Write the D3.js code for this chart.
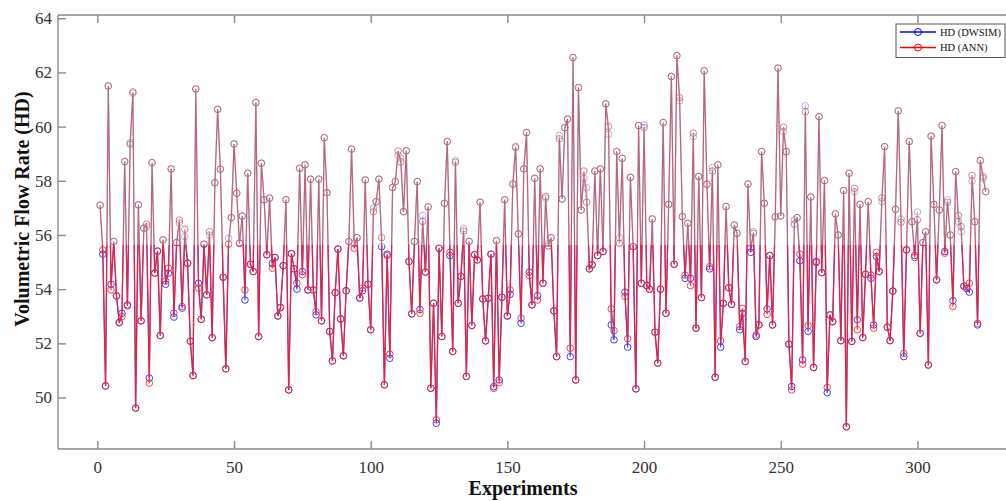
<!DOCTYPE html>
<html><head><meta charset="utf-8">
<script src="https://cdn.jsdelivr.net/npm/d3@7"></script>
<style>body{margin:0;background:#fff;}svg{display:block;}</style>
</head><body>
<svg id="chart" width="1006" height="501"></svg>
<script>
const dwsim = [57.1,55.29,50.43,61.5,54.18,55.76,53.75,52.76,53.11,58.71,53.42,59.41,61.23,49.61,57.11,52.83,56.25,56.3,50.72,58.67,
54.59,55.4,52.29,55.82,54.18,54.59,58.44,52.97,55.72,56.45,53.3,55.94,54.96,52.08,50.81,61.39,54.22,52.89,55.66,53.79,
56.0,52.21,57.93,60.64,58.43,54.44,51.06,55.88,56.64,59.36,57.54,55.7,56.7,53.6,58.28,54.92,54.65,60.89,52.25,58.65,
57.3,55.27,57.36,54.95,55.17,53.01,53.32,54.87,57.3,50.28,55.31,54.75,54.0,58.46,54.65,58.59,53.97,58.06,53.97,53.05,
58.06,52.83,59.59,57.56,52.44,51.35,53.87,55.48,52.9,51.54,53.94,55.76,59.17,55.7,55.9,53.67,53.94,58.03,54.18,52.5,
56.99,57.23,58.06,55.57,50.47,55.29,51.45,57.75,57.97,58.95,58.83,56.86,59.11,55.02,53.09,55.76,57.97,53.25,56.72,54.63,
57.04,50.34,53.48,49.05,55.51,52.25,57.17,59.45,55.24,51.7,58.75,53.48,54.47,56.24,50.78,55.76,52.66,55.27,55.08,57.21,
53.64,52.09,53.67,55.29,50.4,55.79,50.65,53.7,57.3,53.01,53.81,57.88,59.22,56.04,52.74,58.44,59.78,54.63,53.42,58.09,
53.76,58.44,54.22,57.36,55.7,55.9,53.2,51.51,59.67,57.33,59.96,60.28,51.51,62.55,50.65,61.44,56.92,58.09,57.75,54.75,
54.9,58.36,55.24,58.44,55.39,60.84,59.72,52.68,52.13,59.08,55.9,58.83,53.89,51.86,58.13,55.57,50.32,60.04,54.22,60.06,
54.13,54.0,56.59,52.41,51.27,54.0,60.15,53.11,57.13,61.85,54.92,62.62,60.95,56.68,54.4,56.43,54.4,59.63,52.56,58.16,
53.69,62.06,57.87,54.75,58.49,50.75,58.59,51.86,53.48,57.05,54.05,53.44,56.37,56.06,52.5,53.11,51.33,57.88,55.36,56.12,
52.25,52.68,59.08,57.17,53.27,55.24,52.68,56.67,62.16,56.7,59.82,59.08,51.97,50.41,56.56,56.64,55.05,51.39,60.77,52.44,
57.4,51.11,55.02,60.37,54.61,58.01,50.18,53.05,52.8,56.78,56.0,52.1,57.64,48.92,58.28,52.07,57.6,52.87,57.13,52.21,
54.55,57.23,54.4,52.68,55.2,54.65,57.23,59.26,52.6,52.1,53.93,56.95,60.58,56.59,51.51,55.45,59.45,56.49,55.24,56.85,
52.37,55.72,56.12,51.2,59.65,57.13,54.34,56.92,60.04,55.39,57.3,56.0,53.58,58.34,56.5,56.12,54.11,54.03,53.89,57.99,
56.49,52.68,58.75,58.09,57.6];
const ann = [57.1,55.45,50.43,61.5,53.97,55.76,53.75,52.78,52.99,58.71,53.38,59.35,61.28,49.61,57.11,52.83,56.25,56.4,50.53,58.67,
54.6,55.41,52.29,55.82,54.3,54.77,58.44,53.11,55.72,56.55,53.36,56.21,54.96,52.08,50.81,61.39,54.04,52.89,55.66,53.79,
56.12,52.21,57.93,60.64,58.43,54.44,51.06,55.66,56.64,59.36,57.54,55.7,56.7,53.97,58.28,54.92,54.65,60.89,52.25,58.65,
57.3,55.27,57.36,54.77,55.17,53.01,53.32,54.87,57.3,50.28,55.31,54.75,54.22,58.46,54.53,58.59,53.97,58.06,53.97,53.17,
58.06,52.83,59.59,57.56,52.44,51.35,53.87,55.48,52.9,51.54,53.94,55.76,59.17,55.51,55.9,53.67,54.04,58.03,54.18,52.5,
56.86,57.23,58.06,55.9,50.47,55.24,51.6,57.75,57.97,59.1,58.7,56.86,59.11,55.02,53.09,55.76,57.97,53.11,56.5,54.63,
57.04,50.34,53.48,49.18,55.51,52.25,57.17,59.45,55.36,51.7,58.68,53.48,54.47,56.15,50.78,55.76,52.66,55.27,55.08,57.21,
53.64,52.09,53.67,55.29,50.34,55.79,50.55,53.7,57.3,53.01,53.97,57.88,59.26,56.04,52.93,58.44,59.78,54.5,53.42,58.09,
53.6,58.44,54.22,57.42,55.6,55.9,53.2,51.51,59.55,57.33,59.96,60.28,51.82,62.55,50.65,61.44,56.92,58.36,57.21,54.75,
54.9,58.36,55.24,58.44,55.39,60.84,60.0,53.27,52.47,59.08,55.7,58.83,53.73,52.17,58.13,55.57,50.32,60.04,54.22,59.97,
54.13,54.0,56.59,52.41,51.27,54.0,60.15,53.11,57.13,61.85,54.92,62.62,61.07,56.68,54.52,56.43,54.13,59.76,52.56,58.16,
53.69,62.06,57.87,54.83,58.36,50.75,58.59,52.09,53.48,57.05,54.05,53.44,56.37,56.06,52.62,53.29,51.33,57.88,55.51,56.06,
52.31,52.68,59.08,57.17,53.07,55.24,52.68,56.67,62.16,56.7,59.98,59.08,51.97,50.28,56.4,56.64,55.29,51.23,60.55,52.66,
57.4,51.11,54.98,60.37,54.61,58.01,50.37,53.05,52.8,56.78,56.0,52.1,57.64,48.92,58.28,52.07,57.72,52.5,57.13,52.21,
54.55,57.23,54.52,52.56,55.36,54.65,57.37,59.26,52.6,52.1,53.93,56.95,60.58,56.47,51.63,55.45,59.45,56.49,55.17,56.56,
52.37,55.72,56.12,51.2,59.65,57.13,54.34,56.92,60.04,55.33,57.21,56.0,53.36,58.34,56.72,56.31,54.11,54.03,54.22,58.2,
56.49,52.74,58.75,58.16,57.6];
const xTicks = [0,50,100,150,200,250,300];
const yTicks = [50,52,54,56,58,60,62,64];
const seriesNames = ["HD (DWSIM)","HD (ANN)"];
const seriesColors = ["#0000ff","#ff0000"];

const svg = d3.select("#chart");
const L = 58, T = 15, R = 1012, B = 449;
const x = d3.scaleLinear().domain([-14.4, 334.6]).range([L, R]);
const y = d3.scaleLinear().domain([48.1, 64.12]).range([B, T]);
const serif = "'Liberation Serif','Times New Roman',serif";
const axisColor = "#8a8a8a";

svg.append("rect").attr("x",0).attr("y",0).attr("width",1006).attr("height",501).attr("fill","#fff");

const defs = svg.append("defs");
const splitY = y(55.63);
defs.append("clipPath").attr("id","clipLow").append("rect").attr("x",L).attr("y",splitY).attr("width",R-L).attr("height",B-splitY);
defs.append("clipPath").attr("id","clipHigh").append("rect").attr("x",L).attr("y",T).attr("width",R-L).attr("height",splitY-T);

const data = [dwsim, ann].map((arr,k)=>arr.map((v,i)=>({x:i+1,y:v})));
const line = d3.line().x(d=>x(d.x)).y(d=>y(d.y));

function drawSeries(g, styles){
  data.forEach((pts,k)=>{
    const st = styles[k];
    const sg = g.append("g").attr("opacity", st.opacity);
    sg.append("path").datum(pts).attr("d", line).attr("fill","none")
      .attr("stroke", st.color).attr("stroke-width", st.lw);
    sg.selectAll("circle").data(pts).join("circle")
      .attr("cx", d=>x(d.x)).attr("cy", d=>y(d.y)).attr("r", 3.3)
      .attr("fill","none").attr("stroke", st.color).attr("stroke-width", 1);
  });
}
drawSeries(svg.append("g").attr("clip-path","url(#clipLow)"),
  [{color:"#2a2aff",lw:1.2,opacity:0.9},{color:"#ff2020",lw:1.3,opacity:0.85}]);
drawSeries(svg.append("g").attr("clip-path","url(#clipHigh)"),
  [{color:"#5a50c0",lw:1.1,opacity:0.45},{color:"#b83a40",lw:1.3,opacity:0.62}]);

// axes frame
const ax = svg.append("g").attr("stroke",axisColor).attr("stroke-width",1.4).attr("fill","none");
ax.append("line").attr("x1",L).attr("x2",L).attr("y1",T).attr("y2",B);
ax.append("line").attr("x1",L).attr("x2",R).attr("y1",B).attr("y2",B);
ax.append("line").attr("x1",L).attr("x2",R).attr("y1",T).attr("y2",T);

const xb = svg.append("g").attr("transform",`translate(0,${B})`)
  .call(d3.axisBottom(x).tickValues(xTicks).tickSize(-8).tickPadding(12).tickFormat(d3.format("d")));
const xt = svg.append("g").attr("transform",`translate(0,${T})`)
  .call(d3.axisTop(x).tickValues(xTicks).tickSize(-8).tickFormat(""));
const yl = svg.append("g").attr("transform",`translate(${L},0)`)
  .call(d3.axisLeft(y).tickValues(yTicks).tickSize(-8).tickPadding(6).tickFormat(d3.format("d")));
[xb,xt,yl].forEach(g=>{
  g.select(".domain").remove();
  g.selectAll(".tick line").attr("stroke",axisColor).attr("stroke-width",1.4);
  g.selectAll(".tick text").attr("fill","#333").attr("font-family",serif).attr("font-size",17);
});

svg.append("text").attr("transform",`translate(29,209) rotate(-90)`)
  .attr("text-anchor","middle").attr("font-family",serif).attr("font-weight","bold")
  .attr("font-size",20).attr("fill","#111").text("Volumetric Flow Rate (HD)");
svg.append("text").attr("x",523).attr("y",495)
  .attr("text-anchor","middle").attr("font-family",serif).attr("font-weight","bold")
  .attr("font-size",20).attr("fill","#111").text("Experiments");

// legend
const lg = svg.append("g");
lg.append("rect").attr("x",896).attr("y",24).attr("width",109).attr("height",33.5)
  .attr("fill","#fff").attr("stroke","#555").attr("stroke-width",1);
seriesNames.forEach((name,k)=>{
  const yy = 32 + k*15.5;
  lg.append("line").attr("x1",900).attr("x2",936).attr("y1",yy).attr("y2",yy)
    .attr("stroke",seriesColors[k]).attr("stroke-width",1.3);
  lg.append("circle").attr("cx",918).attr("cy",yy).attr("r",3.5)
    .attr("fill","none").attr("stroke",seriesColors[k]).attr("stroke-width",1);
  lg.append("text").attr("x",940).attr("y",yy+3.5).attr("font-family",serif)
    .attr("font-size",10.5).attr("fill","#111").text(name);
});
</script>
</body></html>
